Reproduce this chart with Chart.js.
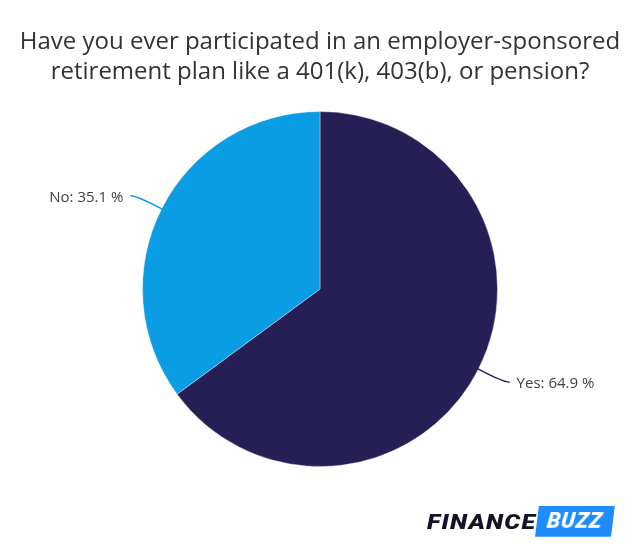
<!DOCTYPE html>
<html lang="en">
  <head>
    <meta charset="UTF-8" />
    <style>
      body {
        margin: 0;
        background-color: #ffffff;
      }
      .wrap {
        position: relative;
        width: 640px;
        height: 550px;
      }
      .finance,
      .buzz {
        position: absolute;
        font-family: "Roboto", sans-serif;
        font-weight: 900;
        font-style: italic;
        font-size: 21px;
        letter-spacing: 1px;
        white-space: nowrap;
      }
      .finance {
        left: 427px;
        top: 507px;
        line-height: 30px;
        color: #141428;
        transform: scaleX(1.19);
        transform-origin: left center;
      }
      .buzz {
        left: 537px;
        top: 506px;
        width: 76px;
        height: 30px;
        line-height: 30px;
        text-align: center;
        color: #ffffff;
        background: #1e8cfa;
        transform: skewX(-7deg);
      }
    </style>
    <script src="https://cdn.jsdelivr.net/npm/chart.js"></script>
    <title>Employer-sponsored retirement plan</title>
  </head>
  <body>
    <div class="wrap">
      <canvas id="pieChart" width="640" height="550"></canvas>
      <span class="finance">FINANCE</span>
      <span class="buzz">BUZZ</span>
    </div>

    <script>
      const labels = ["Yes", "No"];
      const values = [64.9, 35.1];
      const colors = ["#261f55", "#0b9de3"];

      // leader lines + labels drawn next to each slice
      const sliceLabels = {
        id: "sliceLabels",
        afterDatasetsDraw(chart) {
          const ctx = chart.ctx;
          const meta = chart.getDatasetMeta(0);
          ctx.save();
          ctx.font = "15px 'Open Sans'";
          ctx.textBaseline = "middle";
          meta.data.forEach((arc, i) => {
            const mid = (arc.startAngle + arc.endAngle) / 2;
            const r = arc.outerRadius;
            const cos = Math.cos(mid);
            const sin = Math.sin(mid);
            const dir = cos >= 0 ? 1 : -1;
            const vdir = sin >= 0 ? 1 : -1;
            const x0 = arc.x + cos * (r - 2);
            const y0 = arc.y + sin * (r - 2);
            const x1 = x0 + dir * 26;
            const y1 = y0 + vdir * 14;
            const x2 = x1 + dir * 7;
            ctx.strokeStyle = colors[i];
            ctx.lineWidth = 1.5;
            ctx.beginPath();
            ctx.moveTo(x0, y0);
            ctx.quadraticCurveTo(x1, y1, x2, y1);
            ctx.stroke();
            ctx.fillStyle = "#404040";
            ctx.textAlign = dir > 0 ? "left" : "right";
            ctx.fillText(labels[i] + ": " + values[i] + " %", x2 + dir * 7, y1 + 2);
          });
          ctx.restore();
        },
      };

      new Chart(document.getElementById("pieChart"), {
        type: "pie",
        data: {
          labels: labels,
          datasets: [
            {
              data: values,
              backgroundColor: colors,
              borderColor: "rgba(255, 255, 255, 0.35)",
              borderWidth: 1,
            },
          ],
        },
        options: {
          responsive: false,
          animation: false,
          layout: {
            padding: { bottom: 83 },
          },
          plugins: {
            legend: { display: false },
            tooltip: { enabled: false },
            title: {
              display: true,
              text: [
                "Have you ever participated in an employer-sponsored",
                "retirement plan like a 401(k), 403(b), or pension?",
              ],
              color: "#333333",
              font: { family: "'Open Sans'", size: 24, weight: "normal", lineHeight: 30 / 24 },
              padding: { top: 27, bottom: 24 },
            },
          },
        },
        plugins: [sliceLabels],
      });
    </script>
  </body>
</html>
